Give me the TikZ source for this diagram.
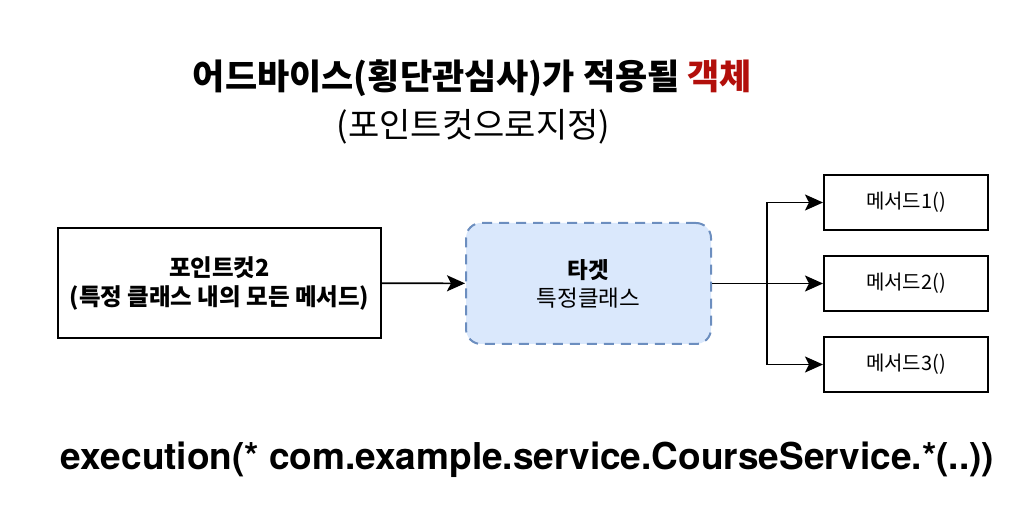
\documentclass[tikz,border=0pt]{standalone}
\usepackage{fontspec}
\setmainfont{Noto Sans CJK KR}
\newfontfamily\codefont{TeX Gyre Heros}
\usetikzlibrary{positioning,arrows.meta}
\definecolor{targetfill}{HTML}{DAE8FC}
\definecolor{targetline}{HTML}{6C8EBF}
\definecolor{objred}{HTML}{B20F0B}
\tikzstyle{plainbox} = [rectangle, draw=black, line width=2pt, text centered, align=center]
\tikzstyle{methodbox} = [plainbox, minimum width=164pt, minimum height=55pt, font=\fontsize{20}{24}\selectfont]
\tikzstyle{targetbox} = [rectangle, rounded corners=15pt, draw=targetline, fill=targetfill, line width=2pt, dash pattern=on 10pt off 7pt, align=center, minimum width=245pt, minimum height=121pt, font=\fontsize{22.5}{28}\selectfont]
\tikzstyle{arrow} = [line width=1.6pt, -{Stealth[length=18pt,width=16pt,inset=4pt]}]

\begin{document}
\begin{tikzpicture}[x=1pt,y=1pt]
	%% page frame (1024 x 508)
	\useasboundingbox (0,0) rectangle (1024,508);

	%% title
	\node (title) at (472.5,430)
	  {\fontsize{35}{40}\selectfont\bfseries 어드바이스(횡단관심사)가 적용될 \textcolor{objred}{객체}};
	\node (subtitle) at (473.5,381)
	  {\fontsize{34}{38}\selectfont (포인트컷으로지정)};

	%% pointcut and target
	\node[plainbox, minimum width=323pt, minimum height=110pt, font=\fontsize{23.5}{29}\selectfont\bfseries]
	  (pc) at (219.5,225) {포인트컷2\\(특정 클래스 내의 모든 메서드)};
	\node[targetbox] (target) at (588.5,224.5) {\textbf{타겟}\\특정클래스};

	%% methods of the target
	\node[methodbox] (m2) at (906,224.5) {메서드2()};
	\node[methodbox, above=24pt of m2] (m1) {메서드1()};
	\node[methodbox, below=24pt of m2] (m3) {메서드3()};

	% split point of the connectors
	\coordinate (split) at (767,224.5);

	\draw[arrow] (pc) -- (target);
	\draw[line width=1.6pt] (target) -- (split);
	\foreach \m in {m1,m2,m3}
	  \draw[arrow] (split) |- (\m.west);

	%% pointcut expression
	\node (expr) at (527.5,48)
	  {\codefont\bfseries\fontsize{37}{42}\selectfont execution(* com.example.service.CourseService.*(..))};
\end{tikzpicture}
\end{document}
